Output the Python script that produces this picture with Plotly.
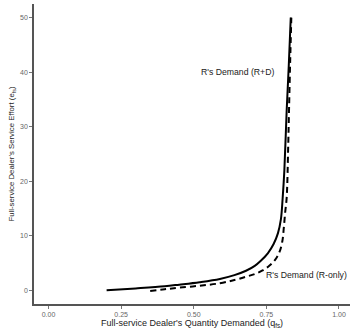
import plotly.graph_objects as go

# R's Demand (R+D) - solid
q_rd = [0.20, 0.30, 0.40, 0.45, 0.52, 0.59, 0.64, 0.68, 0.71, 0.73, 0.755, 0.775, 0.79, 0.80, 0.806, 0.812, 0.82, 0.827, 0.834]
e_rd = [0.0, 0.35, 0.75, 1.05, 1.5, 2.1, 2.8, 3.6, 4.5, 5.4, 6.8, 8.5, 10.5, 13.0, 16.8, 22.0, 33.0, 41.0, 50.0]

# R's Demand (R-only) - dashed
q_ro = [0.35, 0.40, 0.45, 0.52, 0.59, 0.64, 0.68, 0.71, 0.735, 0.76, 0.78, 0.795, 0.805, 0.81, 0.815, 0.82, 0.825, 0.828, 0.832, 0.836]
e_ro = [-0.1, 0.2, 0.5, 0.85, 1.3, 1.9, 2.5, 3.0, 3.6, 4.5, 5.6, 7.0, 9.0, 11.4, 14.4, 17.0, 26.0, 33.0, 42.0, 50.0]

x_ticks = [0.0, 0.25, 0.5, 0.75, 1.0]
x_ticklabels = ["0.00", "0.25", "0.50", "0.75", "1.00"]
y_ticks = [0, 10, 20, 30, 40, 50]

fig = go.Figure()
fig.add_trace(go.Scatter(x=q_rd, y=e_rd, mode="lines",
                         line=dict(color="black", width=2, shape="spline"),
                         showlegend=False))
fig.add_trace(go.Scatter(x=q_ro, y=e_ro, mode="lines",
                         line=dict(color="black", width=2, dash="6px,4px", shape="spline"),
                         showlegend=False))

fig.add_annotation(x=0.652, y=40, text="R's Demand (R+D)", showarrow=False,
                   font=dict(size=8.7, color="#222222", family="Liberation Sans"))
fig.add_annotation(x=1.035, y=2.8, xanchor="right", text="R's Demand (R-only)", showarrow=False,
                   font=dict(size=8.7, color="#222222", family="Liberation Sans"))

fig.update_layout(
    width=350, height=330,
    margin=dict(l=34, r=0, t=4, b=26),
    plot_bgcolor="white", paper_bgcolor="white",
    font=dict(family="Liberation Sans", color="#222222"),
    xaxis=dict(
        range=[-0.05, 1.038], tickvals=x_ticks, ticktext=x_ticklabels,
        showgrid=False, zeroline=False, showline=True, linecolor="#555555", linewidth=1.5,
        ticks="outside", ticklen=3, tickcolor="#777777",
        tickfont=dict(size=7, color="#666666"),
        title=dict(text="Full-service Dealer's Quantity Demanded (q<sub>fs</sub>)",
                   font=dict(size=9, color="#222222"), standoff=2),
        automargin=False,
    ),
    yaxis=dict(
        range=[-2.5, 52.5], tickvals=y_ticks,
        showgrid=False, zeroline=False, showline=True, linecolor="#555555", linewidth=1.5,
        ticks="outside", ticklen=3, tickcolor="#777777",
        tickfont=dict(size=7, color="#666666"),
        title=dict(text="Full-service Dealer's Service Effort (e<sub>fs</sub>)",
                   font=dict(size=7.8, color="#222222"), standoff=4),
        automargin=False,
    ),
)

fig.write_html("out.html")
